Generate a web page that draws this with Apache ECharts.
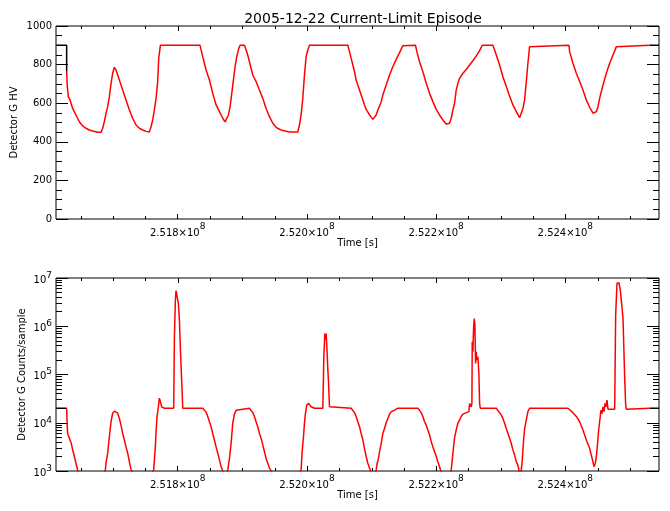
<!DOCTYPE html>
<html><head><meta charset="utf-8">
<script src="https://cdn.jsdelivr.net/npm/echarts@6/dist/echarts.min.js"></script>
<style>html,body{margin:0;padding:0;background:#fff}#c{width:670px;height:511px}</style>
</head><body><div id="c"></div>
<script>
// ---------------- data ----------------
const titleText = '2005-12-22 Current-Limit Episode';
const xName = 'Time [s]';
const hvName = 'Detector G HV';
const cntName = 'Detector G Counts/sample';
const xMin = 251611600, xMax = 252545000;
const xMajorTicks = [251800000, 252000000, 252200000, 252400000];
const xMinorTicks = [251650000, 251700000, 251750000, 251850000, 251900000, 251950000,
  252050000, 252100000, 252150000, 252250000, 252300000, 252350000, 252450000, 252500000];
const hvMajorTicks = [0, 200, 400, 600, 800, 1000];
const hvMinorTicks = [50, 100, 150, 250, 300, 350, 450, 500, 550, 650, 700, 750, 850, 900, 950];
const logMajorTicks = [1e3, 1e4, 1e5, 1e6, 1e7];
const logMinorTicks = [2e3,3e3,4e3,5e3,6e3,7e3,8e3,9e3, 2e4,3e4,4e4,5e4,6e4,7e4,8e4,9e4,
  2e5,3e5,4e5,5e5,6e5,7e5,8e5,9e5, 2e6,3e6,4e6,5e6,6e6,7e6,8e6,9e6];

// Detector G HV (first 3 and last point are the black underlying trace only)
const hvTime = [
251611600, 251628100, 251628100, 251628100,
251629100, 251630700, 251633300, 251637400, 251642500, 251647700, 251652900, 251658000, 251663200, 251668400, 251676100, 251681300,
251683900, 251686400, 251689000, 251691600, 251694200, 251696800, 251699300, 251701900, 251704500, 251707100, 251709700, 251714800, 251720000, 251725200, 251730300, 251735500, 251740600, 251745800, 251751000, 251756100,
251758700, 251761300, 251763900, 251766500, 251769000, 251770600, 251773200, 251834600,
251836200, 251838700, 251841300, 251843900, 251849100, 251854200, 251859400, 251864600, 251869700, 251873300,
251875900, 251878500, 251881100, 251883700, 251886200, 251888800, 251891400, 251894500, 251896600, 251903300,
251905900, 251908400, 251911000, 251916200, 251921300, 251926500, 251931700, 251936800, 251942000, 251947200, 251952300, 251957500, 251962700, 251973000, 251985900,
251988500, 251991000, 251993600, 251996200, 251998800, 252001400, 252004000, 252063300,
252065900, 252068500, 252071100, 252073700, 252076200, 252078800, 252081400, 252084000, 252086600, 252089100, 252091700, 252096900, 252102100,
252104600, 252107200, 252109800, 252112400, 252115000, 252117500, 252122700, 252127900, 252133000, 252138200, 252143400, 252148500, 252151100, 252168100,
252170200, 252174300, 252179500, 252184700, 252189800, 252195000, 252200200, 252205300, 252210500, 252215600, 252218200,
252220800, 252223400, 252226000, 252228500, 252231100, 252233700, 252236300, 252241500, 252246600, 252251800, 252256900, 252262100, 252267300, 252271400, 252287900,
252290500, 252293100, 252298200, 252303400, 252308600, 252313700, 252318900, 252324100, 252329200,
252331800, 252334400, 252337000, 252339600, 252342100, 252344700, 252347300, 252405600,
252406700, 252411800, 252417000, 252422200, 252427300, 252432500, 252437600, 252442800, 252445400,
252448000, 252450600, 252453100, 252458300, 252463500, 252468600, 252473800, 252479000, 252481500, 252530600,
252545000];
const hvValue = [
900, 900, 798, 763,
686, 634, 617, 573, 539, 504, 482, 470, 461, 456, 449, 449,
470, 504, 547, 582, 634, 703, 755, 786, 772, 746, 720, 668, 617, 565, 522, 487, 470, 461, 454, 451,
478, 513, 565, 625, 712, 832, 900, 900,
876, 841, 807, 772, 720, 651, 591, 556, 522, 503,
513, 539, 582, 651, 720, 789, 841, 884, 900, 900,
876, 850, 815, 746, 712, 668, 625, 573, 530, 496, 475, 465, 458, 451, 451,
487, 539, 625, 746, 841, 876, 900, 900,
867, 832, 798, 763, 720, 694, 668, 642, 617, 591, 568, 539, 516,
522, 539, 565, 585, 608, 642, 694, 746, 789, 827, 862, 898, 900, 900,
867, 815, 763, 703, 651, 608, 568, 539, 513, 492, 487,
496, 522, 565, 599, 668, 703, 729, 755, 775, 798, 820, 845, 872, 900, 900,
876, 850, 798, 737, 686, 637, 591, 556, 525,
530, 573, 617, 712, 807, 893, 900, 900,
867, 807, 755, 712, 668, 617, 579, 548, 542,
556, 582, 625, 694, 755, 807, 850, 893, 900, 900,
900];

// Detector G Counts/sample (first and last point are the black underlying trace only)
const cntTime = [
251611600, 251628100,
251628600, 251629600, 251631200, 251633300, 251635300, 251637400, 251640000, 251642500, 251645100,
251652900, 251668400, 251680000,
251688000, 251689000, 251691600, 251694200, 251696800, 251699300, 251701900, 251704500, 251707100, 251709700, 251712200, 251714800, 251717400, 251720000, 251722600, 251725200, 251727700,
251745800,
251762800, 251763900, 251765400, 251766500, 251768000, 251770100, 251771600, 251773200, 251775200, 251779400, 251793800,
251794900, 251796400, 251797400, 251799000, 251801100, 251802600, 251804100, 251806200, 251807800,
251838700, 251841300, 251843900, 251846500, 251849100, 251851600, 251854200, 251856800, 251859400, 251862000, 251864600, 251867100, 251869200,
251873300,
251877500, 251880100, 251882600, 251885200, 251887800, 251890400, 251893000, 251911000,
251913600, 251916200, 251918800, 251921300, 251923900, 251926500, 251929100, 251931700, 251934300, 251936800, 251939400, 251942000, 251943000,
251967800,
251991000, 251992600, 251994700, 251996200, 251997800, 251999800, 252002900, 252004500, 252006500, 252009100, 252011700, 252024600,
252025100, 252025600, 252026200, 252027700, 252028700, 252029800, 252031300, 252032400, 252033400, 252034900, 252036000,
252068500, 252071100, 252073700, 252076200, 252078800, 252081400, 252084000, 252086600, 252089100, 252091700, 252094300, 252096900, 252098400,
252102600,
252107200, 252108800, 252110800, 252112400, 252115000, 252117500, 252120100, 252122700, 252125300, 252127900, 252130500, 252135600, 252140800, 252171800,
252174300, 252176900, 252179500, 252182100, 252184700, 252187200, 252189800, 252192400, 252195000, 252197600, 252200200, 252202700, 252205300, 252206900,
252215600,
252223400, 252226000, 252228500, 252231100, 252233700, 252236300, 252238900, 252241500, 252246600, 252250700,
252251800, 252253300, 252254400, 252255400, 252255900, 252256900, 252258000, 252259000, 252260000, 252261100, 252262100, 252263100, 252264700, 252266200, 252267300, 252268300,
252293100, 252295700, 252298200, 252300800, 252303400, 252306000, 252308600, 252311200, 252313700, 252316300, 252318900, 252321500, 252324100, 252326600, 252328200,
252329800,
252331800, 252333400, 252335400, 252337000, 252339600, 252342100, 252344700, 252404100,
252406700, 252411800, 252417000, 252422200, 252427300, 252432500, 252437600, 252440200, 252442800, 252444400, 252446400, 252448000, 252449500, 252451600, 252453100, 252455200, 252456800, 252458300, 252459800, 252461400, 252462900, 252464500, 252466000, 252468600, 252476400,
252477900, 252480000, 252483100, 252485100, 252487200, 252489300, 252490300, 252491900, 252493400, 252494400, 252530600,
252545000];
const cntValue = [
20000, 20000,
11500, 6000, 5500, 4400, 3700, 2750, 2000, 1450, 1050,
400, 200, 400,
1050, 1450, 2340, 5130, 10500, 15800, 17400, 17000, 15800, 12300, 8900, 6000, 4400, 3160, 2340, 1550, 1070,
400,
1050, 1700, 3160, 6600, 13500, 21400, 32400, 27500, 21400, 20000, 20000,
603000, 3470000, 5500000, 5010000, 2950000, 1350000, 347000, 70800, 20000,
20000, 18200, 16600, 13500, 10500, 8300, 6000, 4400, 3160, 2340, 1700, 1230, 1050,
630,
1050, 1820, 3700, 9800, 15100, 18200, 20000, 20000,
18200, 16200, 13500, 10500, 8300, 6000, 4790, 3470, 2510, 1820, 1450, 1150, 1050,
320,
1050, 2510, 5130, 9800, 15800, 23400, 25100, 26300, 21400, 20900, 20000, 20000,
40700, 43700, 234000, 708000, 525000, 708000, 275000, 123000, 70800, 21400, 20000,
20000, 18200, 16200, 13500, 10500, 8300, 6000, 4400, 2950, 2000, 1450, 1150, 1050,
710,
1050, 1450, 1820, 2510, 3700, 6000, 7590, 10000, 12300, 15100, 17000, 18200, 20000, 20000,
18200, 16200, 13500, 10500, 8900, 7080, 5620, 4070, 3160, 2510, 2000, 1550, 1230, 1050,
500,
1050, 2340, 4790, 7080, 9800, 11500, 13500, 15100, 16200, 17000,
25100, 23400, 21400, 25100, 479000, 295000, 912000, 1450000, 1070000, 170000, 295000, 200000, 234000, 105000, 25100, 20000,
20000, 18200, 16200, 14500, 12300, 9800, 7590, 6000, 4790, 3700, 2750, 2140, 1550, 1320, 1050,
790,
1050, 1700, 4400, 7590, 11500, 17000, 20000, 20000,
18200, 16200, 13500, 10500, 7080, 4400, 2950, 2140, 1550, 1230, 1450, 2000, 3160, 7080, 10500, 18200, 15500, 21400, 17000, 25100, 21400, 29500, 19100, 18600, 19100,
1700000, 7760000, 7940000, 5620000, 2950000, 1450000, 479000, 83200, 23400, 19100, 20000,
20000];

// ---------------- chart ----------------
const FONT = 'DejaVu Sans';
const BLACK = '#000000', RED = '#ff0000';
const chart = echarts.init(document.getElementById('c'), null, {renderer: 'canvas'});
const zip = (t, v) => t.map((x, i) => [x, v[i]]);
const hvAll = zip(hvTime, hvValue);
const cntAll = zip(cntTime, cntValue);
const nameStyle = {fontFamily: FONT, fontSize: 10, color: BLACK};

// y axis that only draws one set of inward ticks (the box is the grid border)
function tickAxis(extra, ticks, len) {
  return Object.assign({
    type: 'value', splitLine: {show: false}, minorTick: {show: false},
    axisLine: {show: false, onZero: false},
    axisTick: {show: true, inside: true, length: len, customValues: ticks,
      lineStyle: {color: BLACK, width: 1}},
    axisLabel: {show: false}
  }, extra);
}

function xAxisFor(gi) {
  return {type: 'value', gridIndex: gi, min: xMin, max: xMax, position: 'bottom',
    splitLine: {show: false}, axisLine: {show: false, onZero: false},
    axisTick: {show: true, inside: true, length: 5, customValues: xMajorTicks,
      lineStyle: {color: BLACK, width: 1}},
    name: xName, nameLocation: 'middle', nameGap: 18, nameTextStyle: nameStyle,
    axisLabel: {show: true, customValues: xMajorTicks, margin: 3, color: BLACK,
      formatter: v => '{m|' + (v / 1e8).toFixed(3) + '×10}{s|8}',
      rich: {m: {fontFamily: FONT, fontSize: 10, color: BLACK, verticalAlign: 'bottom'},
             s: {fontFamily: FONT, fontSize: 9, color: BLACK, verticalAlign: 'bottom', padding: [0, 0, 7, 0]}}}};
}

const hvExt = {gridIndex: 0, min: 0, max: 1000};
const hvMain = tickAxis(Object.assign({}, hvExt, {position: 'left', name: hvName, nameLocation: 'middle',
  nameGap: 37, nameMoveOverlap: false, nameTextStyle: nameStyle}), hvMajorTicks, 12);
hvMain.axisLabel = {show: true, customValues: hvMajorTicks, margin: 4, fontFamily: FONT, fontSize: 10,
  color: BLACK, formatter: v => String(v)};

const logExt = {type: 'log', logBase: 10, gridIndex: 1, min: 1e3, max: 1e7};
const logMain = tickAxis(Object.assign({}, logExt, {position: 'left', name: cntName, nameLocation: 'middle',
  nameGap: 29, nameMoveOverlap: false, nameTextStyle: nameStyle}), logMajorTicks, 12);
logMain.axisTick.show = false;
logMain.axisLabel = {show: true, margin: 4, color: BLACK,
  formatter: v => '{b|10}{s|' + Math.round(Math.log10(v)) + '}',
  rich: {b: {fontFamily: FONT, fontSize: 10, color: BLACK, verticalAlign: 'bottom'},
         s: {fontFamily: FONT, fontSize: 9, color: BLACK, verticalAlign: 'bottom', padding: [0, 0, 5, 0]}}};
const logTickExt = {gridIndex: 1, min: 3, max: 7};

const lineSeries = (xi, yi, data, color) => ({type: 'line', xAxisIndex: xi, yAxisIndex: yi, data: data,
  showSymbol: false, symbol: 'none', silent: true, clip: true, lineStyle: {color: color, width: 1.5}});

// remaining inward x ticks (minor on bottom edge, major+minor on top edge), via the axes' scales
const xTickData = [].concat(
  xMinorTicks.map(t => [t, 3, 0]),
  xMajorTicks.map(t => [t, 5, 1]),
  xMinorTicks.map(t => [t, 3, 1]));
const xTickSeries = (xi, yi, yLow, yHigh) => ({
  type: 'custom', xAxisIndex: xi, yAxisIndex: yi, silent: true, clip: false, data: xTickData, z: 5,
  renderItem: (params, api) => {
    const t = api.value(0), len = api.value(1), top = api.value(2) === 1;
    const p = api.coord([t, top ? yHigh : yLow]);
    const x = Math.round(p[0]) + 0.5;
    return {type: 'line', shape: {x1: x, y1: p[1], x2: x, y2: top ? p[1] + len : p[1] - len},
      style: {stroke: BLACK, lineWidth: 1}};
  }
});

const option = {
  backgroundColor: '#ffffff',
  animation: false,
  title: {text: titleText, left: 358, top: 7, textAlign: 'center',
    textStyle: {fontFamily: FONT, fontSize: 14, fontWeight: 'normal', color: BLACK}},
  grid: [
    {left: 56, right: 11, top: 26, height: 193, show: true, borderColor: BLACK, borderWidth: 1,
      backgroundColor: 'transparent', outerBoundsMode: 'none', containLabel: false},
    {left: 56, right: 11, top: 278, height: 193, show: true, borderColor: BLACK, borderWidth: 1,
      backgroundColor: 'transparent', outerBoundsMode: 'none', containLabel: false}
  ],
  xAxis: [xAxisFor(0), xAxisFor(1)],
  yAxis: [
    hvMain,
    tickAxis(Object.assign({}, hvExt, {position: 'right'}), hvMajorTicks, 12),
    logMain,
    tickAxis(Object.assign({}, hvExt, {position: 'left'}), hvMinorTicks, 6),
    tickAxis(Object.assign({}, hvExt, {position: 'right'}), hvMinorTicks, 6),
    tickAxis(Object.assign({}, logTickExt, {position: 'left'}), logMajorTicks.map(Math.log10), 12),
    tickAxis(Object.assign({}, logTickExt, {position: 'right'}), logMajorTicks.map(Math.log10), 12),
    tickAxis(Object.assign({}, logTickExt, {position: 'left'}), logMinorTicks.map(Math.log10), 6),
    tickAxis(Object.assign({}, logTickExt, {position: 'right'}), logMinorTicks.map(Math.log10), 6)
  ],
  series: [
    xTickSeries(0, 0, 0, 1000),
    xTickSeries(1, 2, 1e3, 1e7),
    lineSeries(0, 0, hvAll.slice(0, 4), BLACK),
    lineSeries(0, 0, hvAll.slice(-2), BLACK),
    lineSeries(0, 0, hvAll.slice(3, -1), RED),
    lineSeries(1, 2, cntAll.slice(0, 2), BLACK),
    lineSeries(1, 2, cntAll.slice(-2), BLACK),
    lineSeries(1, 2, cntAll.slice(1, -1), RED)
  ]
};
chart.setOption(option);
</script>
</body></html>
